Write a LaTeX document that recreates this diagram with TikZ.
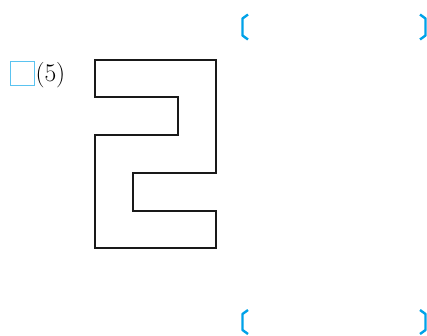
\documentclass[tikz,border=0pt]{standalone}
\usepackage{tikz}
\definecolor{brcyan}{RGB}{0,162,232}
\definecolor{boxcyan}{RGB}{90,195,240}
\begin{document}
\begin{tikzpicture}[x=1pt,y=-1pt,
  shapeline/.style={line width=2.2pt,black!90,line join=miter},
  bracketline/.style={line width=2.4pt,brcyan,line join=round},
  checkbox/.style={line width=1pt,boxcyan}]
\useasboundingbox (0,0) rectangle (427,335);
% checkbox and label
\draw[checkbox] (10.7,61.3) rectangle (34.7,85.3);
\node[anchor=base west,inner sep=0pt,font=\fontsize{25.5}{25.5}\selectfont] (lab) at (35.3,81) {(5)};
% figure
\draw[shapeline] (95,60) -- (216,60) -- (216,172.7) -- (132.7,172.7) -- (132.7,210.7)
  -- (216,210.7) -- (216,248) -- (95,248) -- (95,135) -- (178.3,135) -- (178.3,97.3)
  -- (95,97.3) -- cycle;
% answer brackets
\draw[bracketline] (248,14.5) -- (242.5,18.5) -- (242.5,35.5) -- (248,39.5);
\draw[bracketline] (420,14.5) -- (425.5,18.5) -- (425.5,35.5) -- (420,39.5);
\draw[bracketline] (248,310) -- (242.5,314) -- (242.5,330) -- (248,334);
\draw[bracketline] (420,310) -- (425.5,314) -- (425.5,330) -- (420,334);
\end{tikzpicture}
\end{document}
